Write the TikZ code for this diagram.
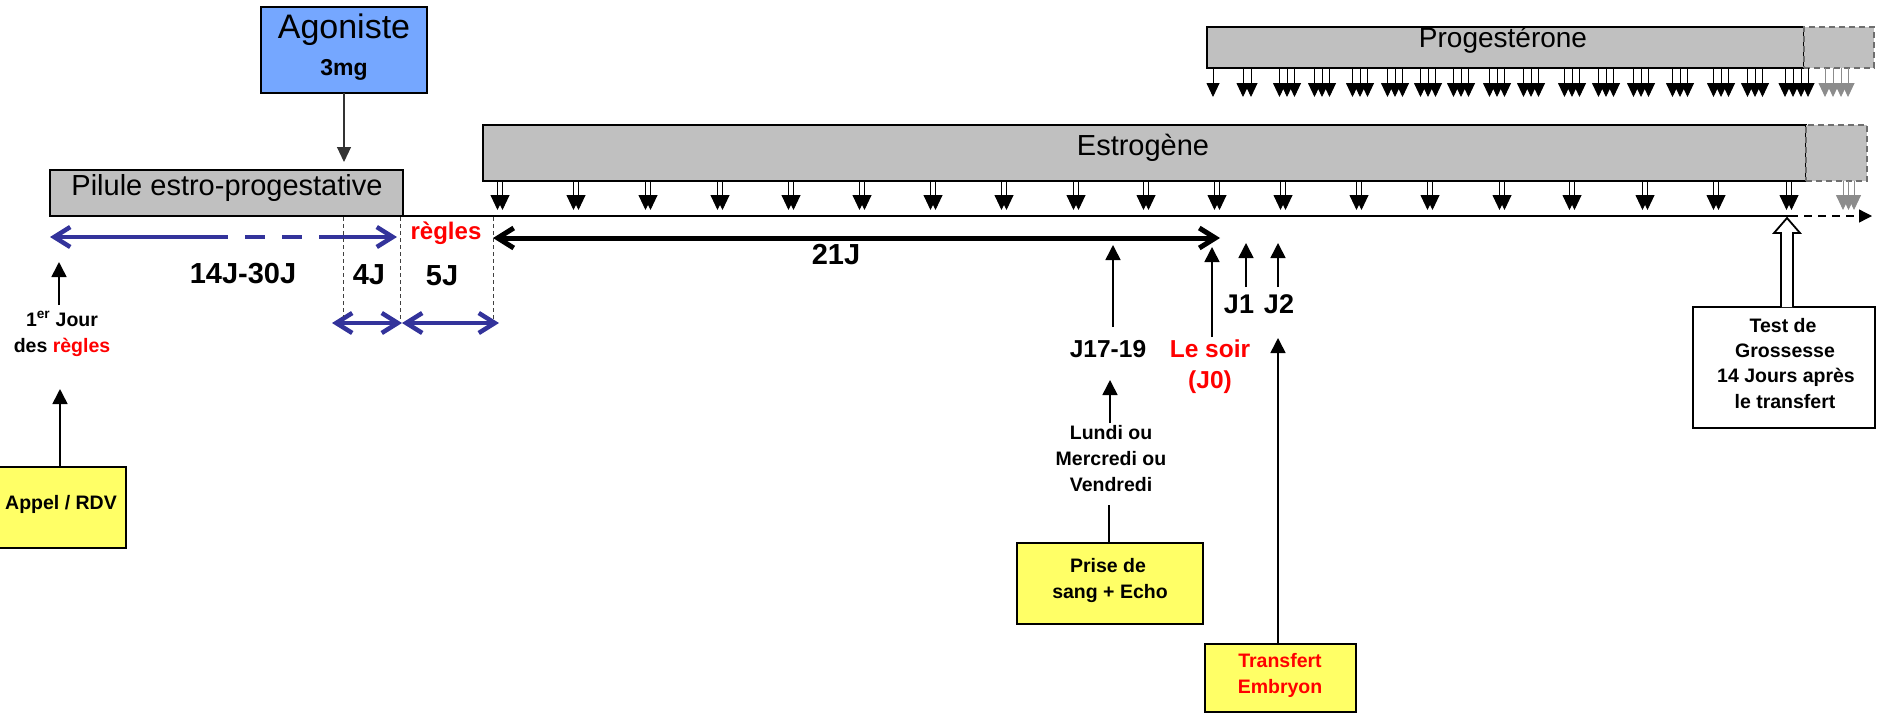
\documentclass[tikz,border=0pt]{standalone}
\usepackage{fontspec}
\setmainfont{Liberation Sans}
\usetikzlibrary{arrows.meta}
\definecolor{boxgray}{RGB}{192,192,192}
\definecolor{agblue}{RGB}{117,167,255}
\definecolor{noteyel}{RGB}{255,255,102}
\definecolor{navyblue}{RGB}{51,51,155}
\definecolor{dashgray}{RGB}{110,110,110}
\definecolor{tipgray}{RGB}{140,140,140}
\definecolor{lred}{RGB}{255,0,0}
\newcommand{\fsz}[1]{\fontsize{#1}{#1}\selectfont}
\begin{document}
\begin{tikzpicture}[x=1pt,y=-1pt,
  box/.style={draw=black, line width=1.5pt, inner sep=0pt, outer sep=0pt},
  graybox/.style={box, fill=boxgray},
  extbox/.style={draw=dashgray, fill=boxgray, line width=1.5pt, dash pattern=on 6pt off 4pt, inner sep=0pt, outer sep=0pt},
  notebox/.style={draw=black, line width=2pt, fill=noteyel, inner sep=0pt, outer sep=0pt},
  txt/.style={inner sep=0pt, anchor=base},
  lab/.style={txt, font=\bfseries\fsz{19.5}},
  mid/.style={txt, font=\bfseries\fsz{24.5}},
  lg/.style={txt, font=\bfseries\fsz{29}},
  big/.style={txt, font=\fsz{29}},
  barb/.tip={Straight Barb[length=16pt,width=20pt]},
  bluearr/.style={draw=navyblue, line width=4.5pt},
  upArr/.style={line width=1.6pt, -{Triangle[length=15pt,width=15pt]}},
  estarr/.style={line width=0.9pt, -{Triangle[length=15pt,width=14pt]}},
  prgarr/.style={line width=0.9pt, -{Triangle[length=14pt,width=13pt]}},
  dline/.style={line width=0.9pt, draw=black!75, dash pattern=on 4pt off 3pt},
]
\useasboundingbox (0,0) rectangle (1877,713);

% boxes
\node[box, fill=agblue, minimum width=166pt, minimum height=86pt] (agon) at (344,50) {};
\node[graybox, minimum width=353pt, minimum height=46pt] (pilule) at (226.5,193) {};
\node[graybox, minimum width=1323pt, minimum height=56pt] (estro) at (1144.5,153) {};
\node[extbox, minimum width=61pt, minimum height=56pt] (estroext) at (1836.5,153) {};
\node[graybox, minimum width=597pt, minimum height=41pt] (proges) at (1505.5,47.5) {};
\node[extbox, minimum width=70pt, minimum height=41pt] (progext) at (1839,47.5) {};
\node[notebox, minimum width=127pt, minimum height=81pt] (appel) at (62.5,507.5) {};
\node[notebox, minimum width=186pt, minimum height=81pt] (prise) at (1110,583.5) {};
\node[notebox, minimum width=151pt, minimum height=68pt] (transf) at (1280.5,678) {};
\node[box, fill=white, minimum width=182pt, minimum height=121pt] (test) at (1784,367.5) {};

% box texts
\node[txt, font=\fsz{34}] (agt) at (344,38) {Agoniste};
\node[txt, font=\bfseries\fsz{23}] (agmg) at (344,75) {3mg};
\node[big] (pilt) at (227,195) {Pilule estro-progestative};
\node[big] (estt) at (1143,155) {Estrogène};
\node[txt, font=\fsz{28}] (prgt) at (1503,47) {Progestérone};

% timeline
\coordinate (tl0) at (138,216);
\coordinate (tltest) at (1790,216);
\coordinate (tlend) at (1872,216);
\draw[line width=1.3pt] (tl0) -- (tltest);
\draw[line width=1.3pt, dash pattern=on 8pt off 6pt, -{Triangle[length=13pt,width=13pt]}] (tltest) -- (tlend);

% agoniste arrow
\draw[line width=1.1pt, draw=black!80, -{Triangle[length=15pt,width=14pt]}, shorten >=8pt] (agon.south) -- (agon.south |- pilule.north);

% estrogen arrows
\foreach \c in {500,576,648,720,791,862,933,1004,1076,1146,1217,1283,1359,1430,1502,1572,1645,1716,1789}{
  \foreach \o in {-2.5,2.5}{\draw[estarr] (\c+\o,181) -- (\c+\o,210);}
}
\foreach \s in {1843,1848.5,1854}{\draw[estarr, draw=tipgray, fill=tipgray] (\s,181) -- (\s,210);}

% progesterone arrows
\foreach \s in {1213,1243,1251,1785,1793,1801,1808}{\draw[prgarr] (\s,68) -- (\s,97);}
\foreach \c in {1287,1322,1360,1395,1428,1461,1497,1531,1572,1606,1641,1680,1721,1755}{
  \foreach \o in {-7.5,0,7.5}{\draw[prgarr] (\c+\o,68) -- (\c+\o,97);}
}
\foreach \s in {1825,1833,1841,1848}{\draw[prgarr, draw=tipgray, fill=tipgray] (\s,68) -- (\s,97);}

% blue measure arrows
\coordinate (b1) at (50,237);
\coordinate (b2) at (208,237);
\coordinate (b3) at (337,237);
\coordinate (b4) at (397,237);
\draw[bluearr, {barb}-] (b1) -- (b2);
\draw[bluearr, dash pattern=on 20pt off 17pt] (b2) -- (b3);
\draw[bluearr, -{barb}] (b3) -- (b4);
\coordinate (c1) at (332,323);
\coordinate (c2) at (402,323);
\coordinate (c3) at (499,323);
\draw[bluearr, {barb}-{barb}] (c1) -- (c2);
\draw[bluearr, {barb}-{barb}] (c2) -- (c3);

% 21J arrow
\coordinate (d1) at (493,238);
\coordinate (d2) at (1220,238);
\draw[line width=5pt, {barb}-{barb}] (d1) -- (d2);

% dashed verticals
\draw[dline] (343,217) -- (343,317);
\draw[dline] (400,217) -- (400,320);
\draw[dline] (493,217) -- (493,320);

% labels
\node[lg] (l1430) at (243,283) {14J-30J};
\node[lg] (l4) at (369,284) {4J};
\node[lg] (l5) at (442,285) {5J};
\node[txt, font=\bfseries\fsz{24}, text=lred] (regles) at (446,239) {règles};
\node[lg] (l21) at (836,264) {21J};
\node[txt, font=\bfseries\fsz{27}] (j1) at (1239,313) {J1};
\node[txt, font=\bfseries\fsz{27}] (j2) at (1279,313) {J2};
\node[mid] (j1719) at (1108,357) {J17-19};
\node[mid, text=lred] (soir) at (1210,357) {Le soir};
\node[mid, text=lred] (j0) at (1210,388) {(J0)};
\node[lab] (jour1) at (62,326) {1\textsuperscript{er} Jour};
\node[lab] (jour2) at (62,352) {des \textcolor{lred}{règles}};
\node[lab] (appelt) at (61,509) {Appel / RDV};
\node[lab] (lun1) at (1111,439) {Lundi ou};
\node[lab] (lun2) at (1111,465) {Mercredi ou};
\node[lab] (lun3) at (1111,491) {Vendredi};
\node[lab] (pr1) at (1108,572) {Prise de};
\node[lab] (pr2) at (1110,598) {sang + Echo};
\node[lab, text=lred] (tr1) at (1280,667) {Transfert};
\node[lab, text=lred] (tr2) at (1280,693) {Embryon};
\node[lab] (te1) at (1783,332) {Test de};
\node[lab] (te2) at (1785,357) {Grossesse};
\node[lab] (te3) at (1786,382) {14 Jours après};
\node[lab] (te4) at (1785,408) {le transfert};

% up arrows
\coordinate (u1s) at (59,305); \coordinate (u1e) at (59,262);
\draw[upArr] (u1s) -- (u1e);
\coordinate (u2e) at (60,389);
\draw[upArr] (appel.north -| u2e) -- (u2e);
\coordinate (u3s) at (1113,327); \coordinate (u3e) at (1113,245);
\draw[upArr] (u3s) -- (u3e);
\coordinate (u4s) at (1212,337); \coordinate (u4e) at (1212,247);
\draw[upArr] (u4s) -- (u4e);
\coordinate (u5s) at (1246,287); \coordinate (u5e) at (1246,243);
\draw[upArr] (u5s) -- (u5e);
\coordinate (u6s) at (1278,287); \coordinate (u6e) at (1278,243);
\draw[upArr] (u6s) -- (u6e);
\coordinate (u7s) at (1110,423); \coordinate (u7e) at (1110,380);
\draw[upArr] (u7s) -- (u7e);
\coordinate (u8e) at (1109,505);
\draw[line width=1.6pt] (prise.north -| u8e) -- (u8e);
\coordinate (u9e) at (1278,338);
\draw[upArr] (transf.north -| u9e) -- (u9e);

% test block arrow
\draw[line width=1.8pt, fill=white, line join=miter]
  (1781,307) -- (1781,233) -- (1774,233) -- (1787,218) -- (1800,233) -- (1793,233) -- (1793,307);
\end{tikzpicture}
\end{document}
